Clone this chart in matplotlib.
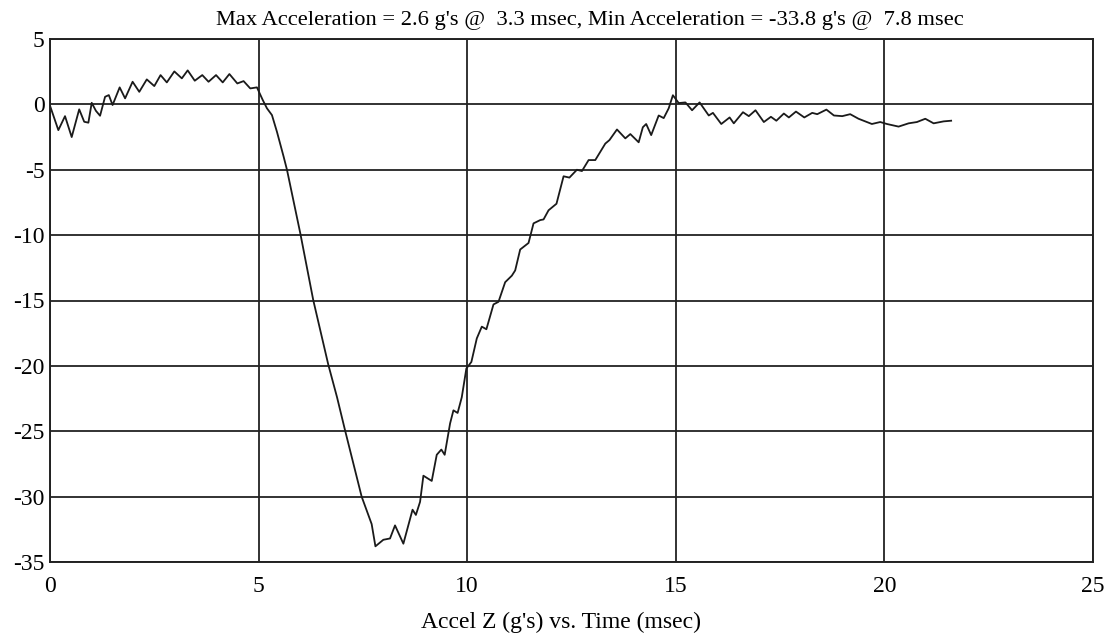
import matplotlib
matplotlib.use("Agg")
import matplotlib.pyplot as plt

# Time (msec)
time_ms = [0, 0.2, 0.36, 0.52, 0.70, 0.82, 0.92, 1.0, 1.1, 1.2, 1.32, 1.41, 1.5, 1.67, 1.8,
           1.98, 2.14, 2.32, 2.5, 2.65, 2.8, 2.98, 3.16, 3.30, 3.47, 3.65, 3.8, 3.98, 4.14,
           4.3, 4.49, 4.64, 4.8, 4.96, 5.1, 5.2, 5.32, 5.44, 5.6, 5.68, 6.0, 6.31, 6.67,
           6.88, 7.07, 7.47, 7.71, 7.80, 7.99, 8.15, 8.27, 8.47, 8.69, 8.77, 8.87, 8.95,
           9.15, 9.27, 9.38, 9.46, 9.59, 9.67, 9.77, 9.87, 9.98, 10.1, 10.23, 10.35, 10.46,
           10.63, 10.75, 10.91, 11.07, 11.15, 11.27, 11.35, 11.47, 11.59, 11.75, 11.83,
           11.95, 12.14, 12.31, 12.45, 12.63, 12.75, 12.91, 13.07, 13.31, 13.41, 13.59,
           13.79, 13.91, 14.11, 14.21, 14.29, 14.41, 14.59, 14.71, 14.83, 14.93, 15.07,
           15.23, 15.39, 15.57, 15.79, 15.89, 16.09, 16.29, 16.39, 16.61, 16.75, 16.91,
           17.11, 17.28, 17.41, 17.59, 17.71, 17.88, 18.08, 18.27, 18.39, 18.61, 18.79,
           18.99, 19.18, 19.38, 19.7, 19.9, 20.06, 20.34, 20.58, 20.78, 20.98, 21.18,
           21.42, 21.6]

# Acceleration Z (g's)
accel_g = [-0.1, -1.97, -0.9, -2.5, -0.38, -1.33, -1.4, 0.12, -0.49, -0.87, 0.58, 0.71, -0.05,
           1.3, 0.46, 1.73, 0.96, 1.91, 1.4, 2.24, 1.68, 2.52, 1.99, 2.6, 1.81, 2.24, 1.73,
           2.24, 1.68, 2.32, 1.6, 1.78, 1.22, 1.3, 0.33, -0.3, -0.82, -2.1, -4.0, -5.0,
           -9.87, -14.97, -19.9, -22.4, -24.9, -30.0, -32.1, -33.8, -33.3, -33.2, -32.2,
           -33.6, -31.0, -31.4, -30.4, -28.4, -28.8, -26.8, -26.4, -26.8, -24.4, -23.4,
           -23.6, -22.4, -20.2, -19.7, -17.9, -17.0, -17.2, -15.3, -15.1, -13.6, -13.1,
           -12.7, -11.1, -10.9, -10.6, -9.1, -8.85, -8.8, -8.1, -7.6, -5.5, -5.6, -5.0,
           -5.1, -4.26, -4.26, -3.0, -2.73, -1.92, -2.6, -2.27, -2.9, -1.75, -1.5, -2.35,
           -0.85, -1.05, -0.3, 0.7, 0.1, 0.15, -0.45, 0.15, -0.85, -0.65, -1.5, -1.0,
           -1.45, -0.6, -0.9, -0.45, -1.35, -0.95, -1.25, -0.7, -1.0, -0.55, -1.0, -0.65,
           -0.75, -0.4, -0.85, -0.9, -0.75, -1.1, -1.5, -1.35, -1.5, -1.7, -1.45, -1.35,
           -1.1, -1.45, -1.3, -1.25]

x_ticks = [0, 5, 10, 15, 20, 25]
y_ticks = [5, 0, -5, -10, -15, -20, -25, -30, -35]

title_text = "Max Acceleration = 2.6 g's @  3.3 msec, Min Acceleration = -33.8 g's @  7.8 msec"
xlabel_text = "Accel Z (g's) vs. Time (msec)"

plt.rcParams['font.family'] = ['Liberation Serif', 'DejaVu Serif']

fig = plt.figure(figsize=(11.14, 6.4), dpi=100)
ax = fig.add_axes([50 / 1114, 1 - 562 / 640, (1093 - 50) / 1114, (562 - 39) / 640])

ax.plot(time_ms, accel_g, color='#1a1a1a', linewidth=1.3)

ax.set_xlim(0, 25)
ax.set_ylim(-35, 5)
ax.set_xticks(x_ticks)
ax.set_yticks(y_ticks)
ax.set_xticklabels([str(v) for v in x_ticks], fontsize=17)
ax.set_yticklabels([str(v) for v in y_ticks], fontsize=17)
ax.tick_params(axis='both', length=0)
ax.tick_params(axis='x', pad=10)
ax.tick_params(axis='y', pad=4)

ax.grid(True, color='#222222', linewidth=1.3)
ax.set_axisbelow(True)
for s in ax.spines.values():
    s.set_color('#222222')
    s.set_linewidth(1.4)

fig.text(590 / 1114, 1 - 21 / 640, title_text, ha='center', va='center', fontsize=16.2)
fig.text(561 / 1114, 1 - 622 / 640, xlabel_text, ha='center', va='center', fontsize=17)

fig.savefig("out.png", dpi=100, facecolor='white')
